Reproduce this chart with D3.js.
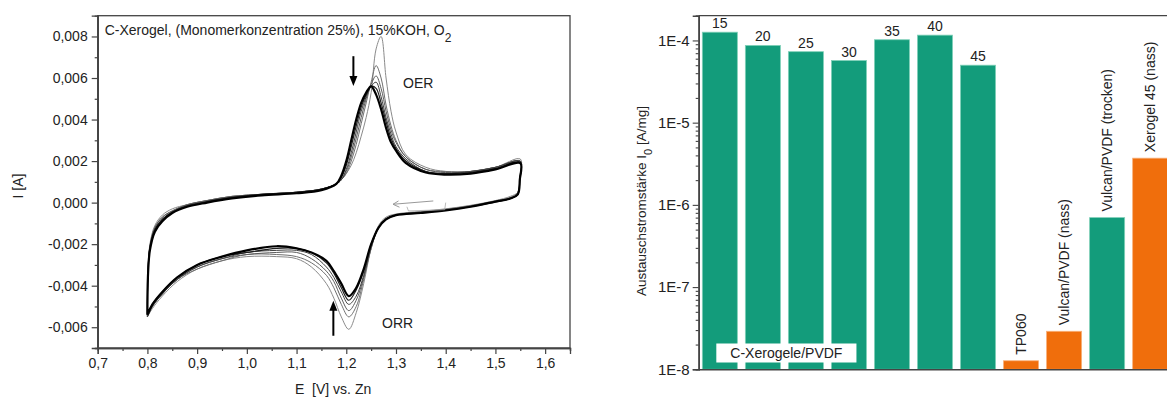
<!DOCTYPE html>
<html>
<head>
<meta charset="utf-8">
<script src="https://d3js.org/d3.v7.min.js"></script>
<style>
  body { margin: 0; background: #fff; }
  svg { display: block; font-family: "Liberation Sans", Arial, sans-serif; }
</style>
</head>
<body>
<svg id="chart" width="1167" height="397"></svg>
<script>
// ---- left: cyclic voltammogram (cycle 1 .. last) ----
var anodicE = [0.800, 0.801, 0.805, 0.815, 0.83, 0.85, 0.88, 0.92, 0.97, 1.03, 1.10, 1.15, 1.18, 1.19, 1.20, 1.21,
  1.22, 1.23, 1.24, 1.25, 1.26, 1.27, 1.28, 1.29, 1.30, 1.32, 1.36, 1.40, 1.45, 1.50, 1.55];
var cathodicE = [1.549, 1.545, 1.53, 1.50, 1.45, 1.40, 1.35, 1.30, 1.28, 1.265, 1.25, 1.235, 1.22, 1.205, 1.19,
  1.175, 1.16, 1.13, 1.10, 1.06, 1.00, 0.95, 0.90, 0.86, 0.83, 0.81, 0.80];

var anodicI = [
  [-0.0055, -0.0033, -0.0020, -0.0011, -0.0006, -0.0003, -0.0001, 0.0001, 0.0003, 0.0004, 0.0005, 0.00065, 0.0009, 0.0011, 0.0014, 0.0018,
   0.0024, 0.0032, 0.0041, 0.0053, 0.0074, 0.0080, 0.0060, 0.0044, 0.0034, 0.0023, 0.0017, 0.0015, 0.0015, 0.0017, 0.0021],
  [-0.0055, -0.0034, -0.0021, -0.0012, -0.0007, -0.0004, -0.0001, 0.0001, 0.0003, 0.0004, 0.0005, 0.00065, 0.0009, 0.0011, 0.0014, 0.0020,
   0.0028, 0.0038, 0.0048, 0.0058, 0.0066, 0.0060, 0.0047, 0.0037, 0.0030, 0.0022, 0.0016, 0.0015, 0.0015, 0.0017, 0.0020],
  [-0.0055, -0.0034, -0.0021, -0.0012, -0.0007, -0.0004, -0.0001, 0.0001, 0.0003, 0.0004, 0.0005, 0.00065, 0.0009, 0.0011, 0.0015, 0.0022,
   0.0031, 0.0041, 0.0050, 0.0057, 0.0061, 0.0055, 0.0044, 0.0035, 0.0029, 0.0022, 0.0016, 0.00145, 0.0015, 0.0017, 0.0020],
  [-0.0055, -0.0035, -0.0022, -0.0013, -0.0008, -0.00045, -0.00015, 0.00005, 0.00025, 0.0004, 0.0005, 0.00065, 0.0009, 0.0011, 0.0016, 0.0024,
   0.0034, 0.0044, 0.0051, 0.0056, 0.0058, 0.0051, 0.0041, 0.0033, 0.0027, 0.0021, 0.0015, 0.0014, 0.0015, 0.0017, 0.0020],
  [-0.0054, -0.0035, -0.0022, -0.0013, -0.0008, -0.00045, -0.00015, 0.00005, 0.00025, 0.0004, 0.0005, 0.00065, 0.0009, 0.0012, 0.0018, 0.0027,
   0.0037, 0.0046, 0.0052, 0.0056, 0.0055, 0.0048, 0.0039, 0.0031, 0.0026, 0.0020, 0.0015, 0.0014, 0.00145, 0.00165, 0.00195],
  [-0.0054, -0.0036, -0.0023, -0.0014, -0.0009, -0.0005, -0.0002, 0.0000, 0.0002, 0.00035, 0.00045, 0.0006, 0.0009, 0.0013, 0.0020, 0.0030,
   0.0040, 0.0048, 0.0053, 0.0056, 0.0052, 0.0045, 0.0036, 0.0029, 0.0025, 0.0019, 0.00145, 0.00135, 0.0014, 0.0016, 0.0019]
];
var cathodicI = [
  [0.0012, 0.0005, 0.0003, 0.0001, -0.00013, -0.0003, -0.00042, -0.00055, -0.0007, -0.0011, -0.0022, -0.0039, -0.0053, -0.0061, -0.0055,
   -0.0046, -0.0039, -0.0031, -0.0027, -0.0026, -0.0026, -0.0028, -0.0032, -0.0038, -0.0045, -0.0051, -0.0055],
  [0.0012, 0.0005, 0.00025, 0.00008, -0.00015, -0.00032, -0.00045, -0.0006, -0.0008, -0.0012, -0.0022, -0.0037, -0.0050, -0.0055, -0.0049,
   -0.0041, -0.0035, -0.0029, -0.0026, -0.0025, -0.0025, -0.0028, -0.0032, -0.0037, -0.0044, -0.0050, -0.0055],
  [0.0011, 0.0004, 0.00022, 0.00006, -0.00017, -0.00034, -0.00046, -0.0006, -0.0008, -0.0012, -0.0022, -0.0036, -0.0047, -0.0052, -0.0046,
   -0.0038, -0.0033, -0.0027, -0.0024, -0.0024, -0.0025, -0.0027, -0.0031, -0.0037, -0.0044, -0.0050, -0.0055],
  [0.0011, 0.0004, 0.0002, 0.00005, -0.00018, -0.00035, -0.00047, -0.0006, -0.0008, -0.0012, -0.0021, -0.0035, -0.0045, -0.0049, -0.0043,
   -0.0036, -0.0031, -0.0025, -0.0023, -0.0023, -0.0024, -0.0027, -0.0031, -0.0037, -0.0044, -0.0050, -0.0055],
  [0.0011, 0.0004, 0.0002, 0.00003, -0.0002, -0.00036, -0.00048, -0.0006, -0.0008, -0.0012, -0.0020, -0.0033, -0.0042, -0.0047, -0.0041,
   -0.0034, -0.0029, -0.0024, -0.0022, -0.0022, -0.0024, -0.0026, -0.0030, -0.0036, -0.0043, -0.0049, -0.0054],
  [0.0011, 0.0004, 0.0002, 0.00005, -0.0002, -0.00038, -0.0005, -0.0006, -0.0008, -0.0012, -0.0020, -0.0032, -0.0041, -0.0045, -0.0039,
   -0.0033, -0.0028, -0.0024, -0.0022, -0.0021, -0.0023, -0.0026, -0.0030, -0.0036, -0.0043, -0.0049, -0.0054]
];
var cycleColor = ["#8a8a8a", "#707070", "#5a5a5a", "#404040", "#202020", "#000"];
var cycleWidth = [1, 1, 1, 1, 1.2, 2.2];

var cvXTicks = [0.7, 0.8, 0.9, 1.0, 1.1, 1.2, 1.3, 1.4, 1.5, 1.6];
var cvYTicks = [-0.006, -0.004, -0.002, 0, 0.002, 0.004, 0.006, 0.008];

// ---- right: exchange current density ----
var barLabels = ["15", "20", "25", "30", "35", "40", "45", "TP060", "Vulcan/PVDF (nass)", "Vulcan/PVDF (trocken)", "Xerogel 45 (nass)"];
var barValues = [1.26e-4, 8.7e-5, 7.3e-5, 5.7e-5, 1.02e-4, 1.16e-4, 5.0e-5, 1.27e-8, 2.9e-8, 7.0e-7, 3.7e-6];
var barPrep = ["trocken", "trocken", "trocken", "trocken", "trocken", "trocken", "trocken", "nass", "nass", "trocken", "nass"];
var logTicks = [1e-8, 1e-7, 1e-6, 1e-5, 1e-4];
var logTickLabels = ["1E-8", "1E-7", "1E-6", "1E-5", "1E-4"];

var svg = d3.select("#chart");
var de = d3.formatLocale({decimal: ",", thousands: ".", grouping: [3], currency: ["", ""], minus: "-"});

// ================= left panel =================
var x = d3.scaleLinear().domain([0.7, 1.65]).range([97.7, 570]);
var y = d3.scaleLinear().domain([-0.007, 0.009]).range([348, 15.7]);
var left = svg.append("g");

var line = d3.line().x(function(d){ return x(d[0]); }).y(function(d){ return y(d[1]); })
  .curve(d3.curveCatmullRom.alpha(0.5));

anodicI.forEach(function(cyc, i) {
  var pts = anodicE.map(function(e, j){ return [e, cyc[j]]; })
    .concat(cathodicE.map(function(e, j){ return [e, cathodicI[i][j]]; }));
  left.append("path").attr("d", line(pts))
    .attr("fill", "none").attr("stroke", cycleColor[i]).attr("stroke-width", cycleWidth[i]);
});

// small gray sweep-direction arrow inside the loop
line.curve(d3.curveLinear);
left.append("path")
  .attr("d", line([[1.375, 0.00008], [1.294, -0.00008]]))
  .attr("stroke", "#999").attr("stroke-width", 1).attr("fill", "none");
left.append("path")
  .attr("d", line([[1.305, 0.00008], [1.294, -0.00008], [1.307, -0.00022]]))
  .attr("stroke", "#999").attr("stroke-width", 1).attr("fill", "none");
left.append("path")
  .attr("d", line([[1.322, -0.0002], [1.325, -0.0004], [1.398, -0.00034], [1.40, 0.0000]]))
  .attr("stroke", "#aaa").attr("stroke-width", 0.8).attr("fill", "none");

// frame
left.append("rect").attr("x", x(0.7)).attr("y", y(0.009))
  .attr("width", x(1.65) - x(0.7)).attr("height", y(-0.007) - y(0.009))
  .attr("fill", "none").attr("stroke", "#444").attr("stroke-width", 1.3);

left.append("g").attr("transform", "translate(0," + y(-0.007) + ")")
  .call(d3.axisBottom(x).tickValues(cvXTicks).tickFormat(de.format(".1f")).tickSize(6).tickPadding(4));
left.append("g").attr("transform", "translate(0," + y(-0.007) + ")")
  .call(d3.axisBottom(x).tickValues(d3.range(0.75, 1.66, 0.1)).tickFormat("").tickSize(3));
left.append("g").attr("transform", "translate(" + x(0.7) + ",0)")
  .call(d3.axisLeft(y).tickValues(cvYTicks).tickFormat(de.format(".3f")).tickSize(6).tickPadding(4));
left.append("g").attr("transform", "translate(" + x(0.7) + ",0)")
  .call(d3.axisLeft(y).tickValues([-0.007, -0.005, -0.003, -0.001, 0.001, 0.003, 0.005, 0.007]).tickFormat("").tickSize(3));

left.selectAll(".domain").attr("stroke", "#444").attr("stroke-width", 1.3);
left.selectAll(".tick line").attr("stroke", "#444").attr("stroke-width", 1.2);
left.selectAll(".tick text").attr("font-size", 14).attr("fill", "#222").attr("font-family", null);

left.append("text").attr("x", x(0.7) + 7).attr("y", 35).attr("font-size", 14).attr("fill", "#222")
  .text("C-Xerogel, (Monomerkonzentration 25%), 15%KOH, O")
  .append("tspan").attr("baseline-shift", "sub").attr("font-size", 12).text("2");
left.append("text").attr("x", 403).attr("y", 88).attr("font-size", 14).attr("fill", "#222").text("OER");
left.append("text").attr("x", 382).attr("y", 328).attr("font-size", 14).attr("fill", "#222").text("ORR");
left.append("text").attr("x", 295).attr("y", 394).attr("font-size", 14).attr("fill", "#222")
  .attr("xml:space", "preserve").style("white-space", "pre").text("E  [V] vs. Zn");
left.append("text").attr("transform", "translate(23,186) rotate(-90)").attr("text-anchor", "middle")
  .attr("font-size", 14).attr("fill", "#222").text("I [A]");

// peak arrows
function arrow(g, e, i0, i1) {
  var x0 = x(e), ya = y(i0), yb = y(i1), dir = yb > ya ? 1 : -1;
  g.append("line").attr("x1", x0).attr("x2", x0).attr("y1", ya).attr("y2", yb - dir * 9)
    .attr("stroke", "#000").attr("stroke-width", 2);
  g.append("path").attr("d", "M" + (x0 - 4) + "," + (yb - dir * 10) + "L" + (x0 + 4) + "," + (yb - dir * 10) + "L" + x0 + "," + yb + "Z")
    .attr("fill", "#000");
}
arrow(left, 1.2143, 0.00705, 0.00562);
arrow(left, 1.174, -0.00641, -0.00473);

// ================= right panel =================
var xb = d3.scaleBand().domain(barLabels).range([698.7, 1171.3]).paddingInner(0.186).paddingOuter(0.084);
var yb = d3.scaleLog().domain([1e-8, 2e-4]).range([369.3, 15.7]);
var prepColor = {trocken: "#139c7b", nass: "#f06e0c"};
var prepEdge = {trocken: "#7fd0b8", nass: "#f8b07a"};
var right = svg.append("g");

right.selectAll("rect.bar").data(barLabels).enter().append("rect").attr("class", "bar")
  .attr("x", function(d){ return xb(d); })
  .attr("y", function(d, i){ return yb(barValues[i]); })
  .attr("width", xb.bandwidth())
  .attr("height", function(d, i){ return yb(1e-8) - yb(barValues[i]); })
  .attr("fill", function(d, i){ return prepColor[barPrep[i]]; })
  .attr("stroke", function(d, i){ return prepEdge[barPrep[i]]; })
  .attr("stroke-width", 0.8);

// value labels: numbers on the xerogel bars, rotated names on the others
right.selectAll("text.num").data(barLabels.slice(0, 7)).enter().append("text").attr("class", "num")
  .attr("x", function(d){ return xb(d) + xb.bandwidth() / 2; })
  .attr("y", function(d, i){ return yb(barValues[i]) - 4; })
  .attr("text-anchor", "middle").attr("font-size", 14).attr("fill", "#222")
  .text(function(d){ return d; });
right.selectAll("text.name").data(barLabels.slice(7)).enter().append("text").attr("class", "name")
  .attr("transform", function(d, i){
    return "translate(" + (xb(d) + xb.bandwidth() / 2 + 5) + "," + (yb(barValues[i + 7]) - 6) + ") rotate(-90)";
  })
  .attr("font-size", 14).attr("fill", "#222")
  .text(function(d){ return d; });

// axes
var minorLog = [];
[1e-8, 1e-7, 1e-6, 1e-5, 1e-4].forEach(function(dec){
  [2, 3, 4, 5, 6, 7, 8, 9].forEach(function(m){ if (m * dec <= 2e-4) minorLog.push(m * dec); });
});
right.append("line").attr("x1", 698.7).attr("x2", 1167).attr("y1", yb(2e-4)).attr("y2", yb(2e-4))
  .attr("stroke", "#444").attr("stroke-width", 1.3);
right.append("g").attr("transform", "translate(698.7,0)")
  .call(d3.axisLeft(yb).tickValues(minorLog).tickFormat("").tickSize(3));
right.append("g").attr("transform", "translate(698.7,0)")
  .call(d3.axisLeft(yb).tickValues(logTicks).tickFormat(function(d, i){ return logTickLabels[i]; }).tickSize(6).tickPadding(3));
right.append("g").attr("transform", "translate(0," + yb(1e-8) + ")")
  .call(d3.axisBottom(xb).tickValues([]).tickSizeOuter(0));
right.selectAll(".domain").attr("stroke", "#444").attr("stroke-width", 1.6);
right.selectAll(".tick line").attr("stroke", "#444").attr("stroke-width", 1.1);
right.selectAll(".tick text").attr("font-size", 15).attr("fill", "#222").attr("font-family", null);

var yl = right.append("text").attr("transform", "translate(646,201) rotate(-90)").attr("text-anchor", "middle")
  .attr("font-size", 13.5).attr("fill", "#222");
yl.append("tspan").text("Austauschstromstärke I");
yl.append("tspan").attr("baseline-shift", "sub").attr("font-size", 11).text("0");
yl.append("tspan").text(" [A/mg]");

// group label box
var grpX0 = xb(barLabels[0]) + 14, grpX1 = xb(barLabels[3]) + xb.bandwidth() - 10;
right.append("rect").attr("x", grpX0).attr("y", 343.5).attr("width", grpX1 - grpX0).attr("height", 19)
  .attr("fill", "#fff");
right.append("text").attr("x", (grpX0 + grpX1) / 2).attr("y", 358).attr("text-anchor", "middle")
  .attr("font-size", 14).attr("fill", "#222").text("C-Xerogele/PVDF");
</script>
</body>
</html>
